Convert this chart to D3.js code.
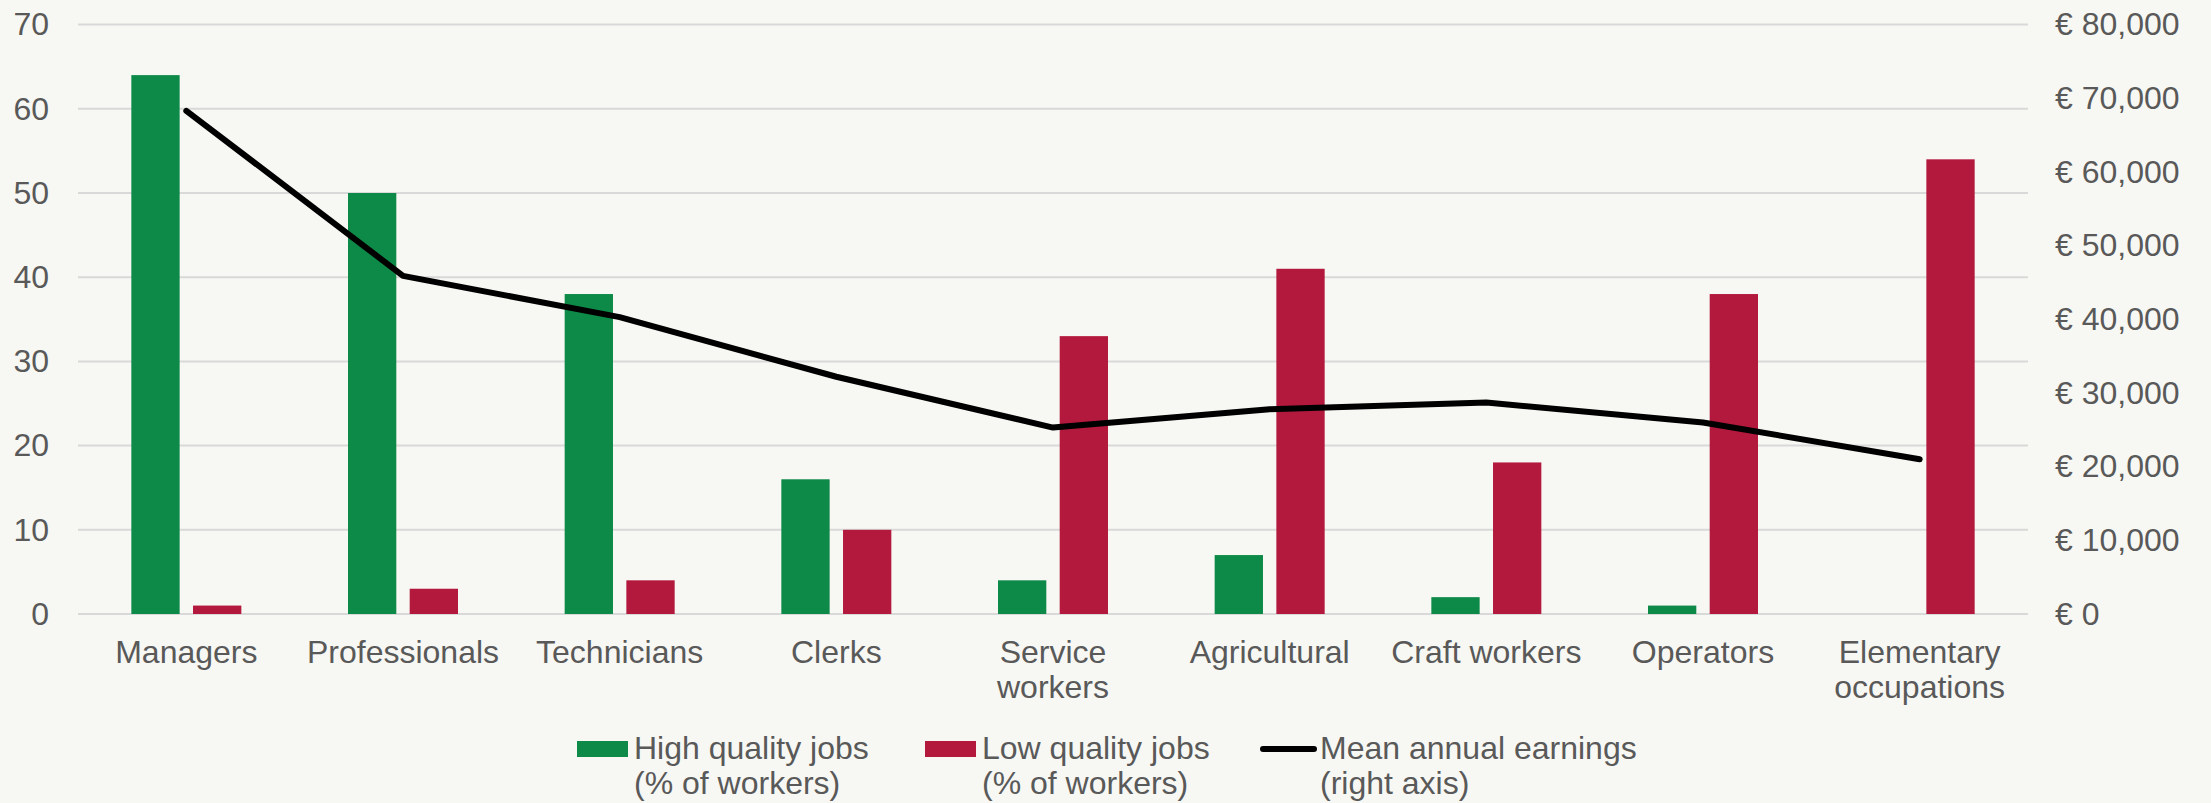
<!DOCTYPE html>
<html>
<head>
<meta charset="utf-8">
<script src="https://cdn.jsdelivr.net/npm/d3@7"></script>
<style>
  html, body { margin: 0; padding: 0; background: #f7f7f3; }
  svg { display: block; font-family: "Liberation Sans", Arial, sans-serif; }
</style>
</head>
<body>
<svg id="chart"></svg>
<script>
// data
let categories = ["Managers", "Professionals", "Technicians", "Clerks", "Service workers",
	"Agricultural", "Craft workers", "Operators", "Elementary occupations"];
let categoryLines = [["Managers"], ["Professionals"], ["Technicians"], ["Clerks"], ["Service", "workers"],
	["Agricultural"], ["Craft workers"], ["Operators"], ["Elementary", "occupations"]];
let highQuality = [64, 50, 38, 16, 4, 7, 2, 1, 0];
let lowQuality = [1, 3, 4, 10, 33, 41, 18, 38, 54];
let earnings = [68300, 45900, 40300, 32200, 25300, 27800, 28700, 26000, 21000];
let leftTicks = [0, 10, 20, 30, 40, 50, 60, 70];
let rightTicks = [0, 10000, 20000, 30000, 40000, 50000, 60000, 70000, 80000];
let seriesNames = ["high", "low"];
let seriesColors = {high: "#0d8a47", low: "#b3183d"};
let legendItems = [
	{kind: "rect", color: "#0d8a47", lines: ["High quality jobs", "(% of workers)"]},
	{kind: "rect", color: "#b3183d", lines: ["Low quality jobs", "(% of workers)"]},
	{kind: "line", color: "#000", lines: ["Mean annual earnings", "(right axis)"]}
];

let W = 2211, H = 803;
let plotLeft = 78, plotRight = 2028, plotTop = 24.6, plotBottom = 614;
let textColor = "#595959", gridColor = "#d9d9d9";

let svg = d3.select("#chart").attr("width", W).attr("height", H);
svg.append("rect").attr("width", W).attr("height", H).attr("fill", "#f7f7f3");

let x = d3.scaleBand().domain(categories).range([plotLeft, plotRight]);
let xs = d3.scaleBand().domain(seriesNames).range([-55, 55]).paddingInner(0.217);
let y = d3.scaleLinear().domain([0, 70]).range([plotBottom, plotTop]);
let y2 = d3.scaleLinear().domain([0, 80000]).range([plotBottom, plotTop]);

// grid
svg.append("g").selectAll("line").data(leftTicks).enter().append("line")
	.attr("x1", plotLeft).attr("x2", plotRight)
	.attr("y1", (d) => y(d)).attr("y2", (d) => y(d))
	.attr("stroke", gridColor).attr("stroke-width", 2);

// left axis
let leftAxis = svg.append("g").attr("transform", "translate(49,0)")
	.call(d3.axisLeft(y).tickValues(leftTicks).tickSize(0).tickPadding(0));
leftAxis.select(".domain").remove();
leftAxis.selectAll("text").attr("fill", textColor).style("font-size", "32px")
	.attr("font-family", "Liberation Sans, Arial, sans-serif");

// right axis
let rightAxis = svg.append("g").attr("transform", "translate(2055,0)")
	.call(d3.axisRight(y2).tickValues(rightTicks).tickSize(0).tickPadding(0)
		.tickFormat((d) => "€ " + d3.format(",")(d)));
rightAxis.select(".domain").remove();
rightAxis.selectAll("text").attr("fill", textColor).style("font-size", "32px")
	.attr("font-family", "Liberation Sans, Arial, sans-serif");

// bars
let rows = categories.map((c, i) => ({cat: c, high: highQuality[i], low: lowQuality[i]}));
let groups = svg.append("g").selectAll("g").data(rows).enter().append("g")
	.attr("transform", (d) => "translate(" + (x(d.cat) + x.bandwidth() / 2) + ",0)");
groups.selectAll("rect")
	.data((d) => seriesNames.map((k) => ({key: k, value: d[k]})))
	.enter().append("rect")
	.attr("x", (d) => xs(d.key))
	.attr("width", xs.bandwidth())
	.attr("y", (d) => y(d.value))
	.attr("height", (d) => y(0) - y(d.value))
	.attr("fill", (d) => seriesColors[d.key]);

// earnings line
let line = d3.line()
	.x((d, i) => x(categories[i]) + x.bandwidth() / 2)
	.y((d) => y2(d));
svg.append("path").datum(earnings)
	.attr("d", line)
	.attr("fill", "none").attr("stroke", "#000").attr("stroke-width", 6)
	.attr("stroke-linecap", "round").attr("stroke-linejoin", "round");

// category labels
let xl = svg.append("g").selectAll("text").data(categories).enter().append("text")
	.attr("text-anchor", "middle")
	.attr("fill", textColor).style("font-size", "32px")
	.attr("x", (d) => x(d) + x.bandwidth() / 2)
	.attr("y", 663);
xl.each(function(d, i) {
	let t = d3.select(this);
	categoryLines[i].forEach((ln, j) => {
		t.append("tspan").attr("x", x(d) + x.bandwidth() / 2).attr("dy", j ? 35 : 0).text(ln);
	});
});

// legend
let legendX = [577, 925, 1260];
let lg = svg.append("g").selectAll("g").data(legendItems).enter().append("g")
	.attr("transform", (d, i) => "translate(" + legendX[i] + ",0)");
lg.filter((d) => d.kind == "rect").append("rect")
	.attr("x", 0).attr("y", 741).attr("width", 51).attr("height", 16)
	.attr("fill", (d) => d.color);
lg.filter((d) => d.kind == "line").append("line")
	.attr("x1", 3).attr("x2", 54).attr("y1", 749).attr("y2", 749)
	.attr("stroke", (d) => d.color).attr("stroke-width", 6).attr("stroke-linecap", "round");
lg.append("text")
	.attr("fill", textColor).style("font-size", "32px")
	.attr("y", 759)
	.each(function(d) {
		let t = d3.select(this);
		let tx = d.kind == "line" ? 60 : 57;
		d.lines.forEach((ln, j) => {
			t.append("tspan").attr("x", tx).attr("dy", j ? 35 : 0).text(ln);
		});
	});
</script>
</body>
</html>
